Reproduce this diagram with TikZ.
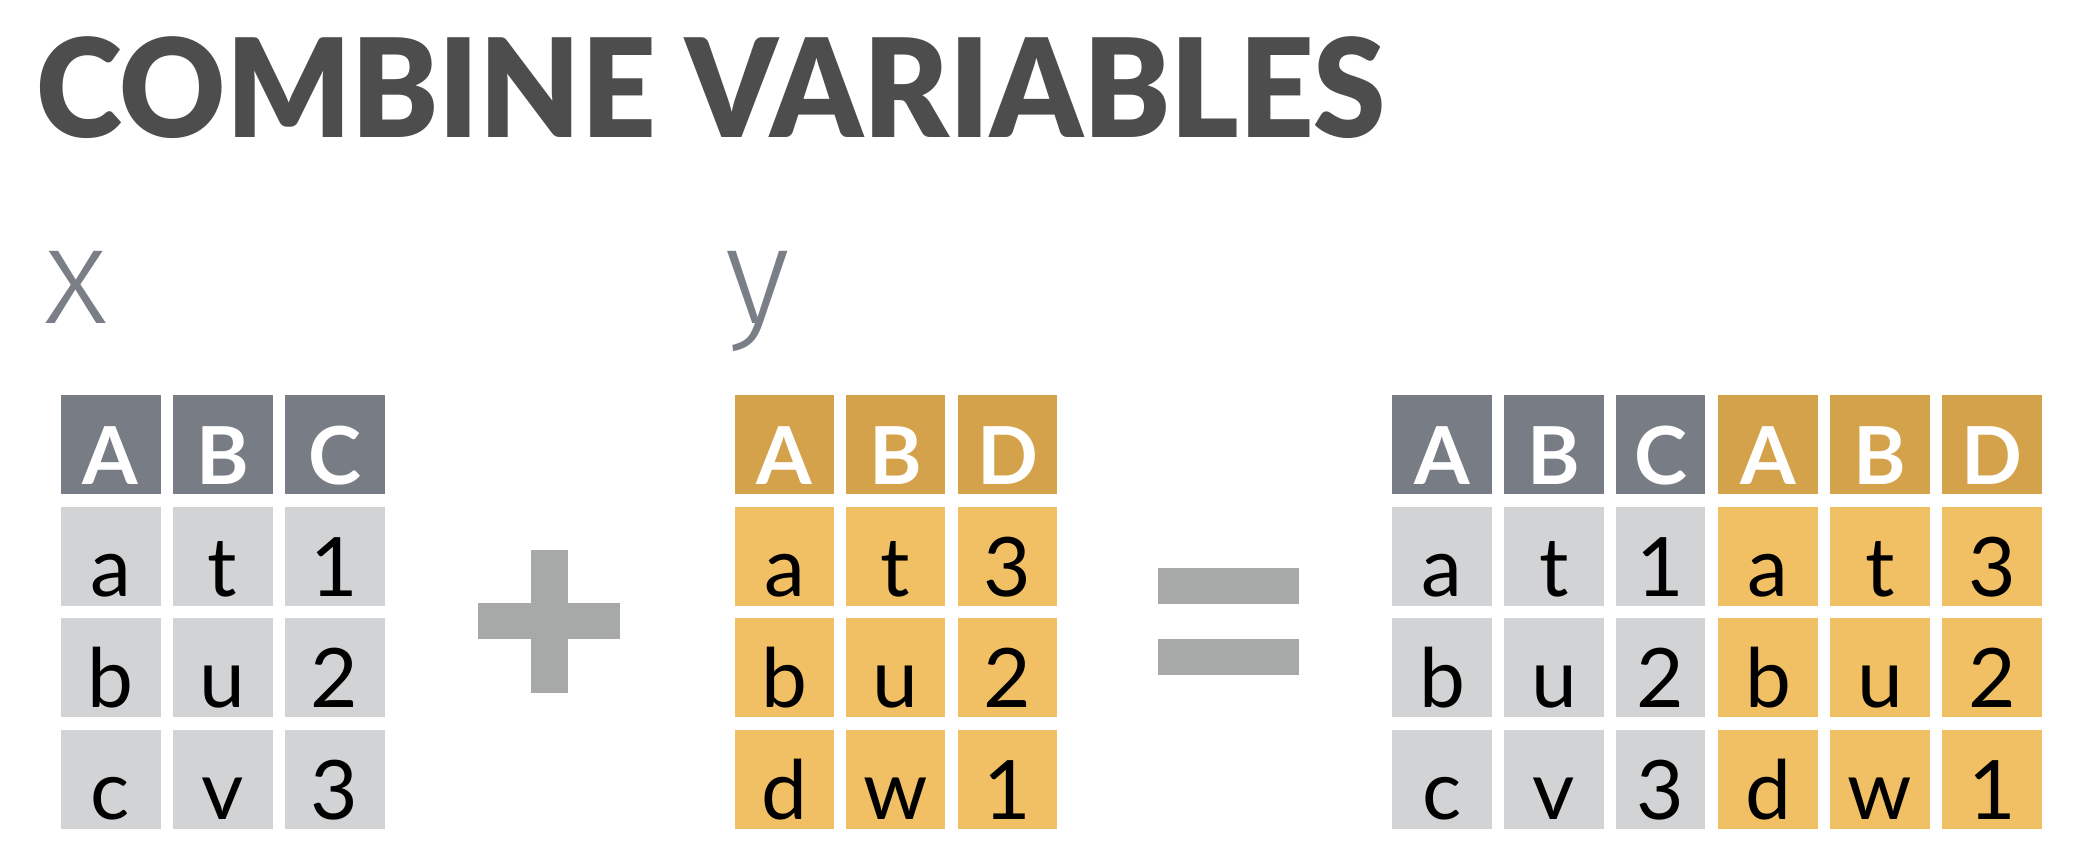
\documentclass[tikz,border=0pt]{standalone}
\usepackage{fontspec}
\setmainfont{Lato}
\newfontfamily\lightfont{Fira Sans Light}
\newfontfamily\blackfont{Lato Black}
\definecolor{titlecol}{HTML}{4D4D4D}
\definecolor{labelcol}{HTML}{7A7E87}
\definecolor{xhead}{HTML}{787C84}
\definecolor{xcell}{HTML}{D1D3D4}
\definecolor{yhead}{HTML}{D5A24C}
\definecolor{ycell}{HTML}{F1C065}
\definecolor{opcol}{HTML}{A7A9A9}
\tikzset{
  cellbox/.style={rectangle, inner sep=0pt, outer sep=0pt, text depth=10pt, text height=89pt, align=center},
  headbox/.style={cellbox, text=white, font=\fontsize{80}{80}\selectfont\bfseries},
  databox/.style={cellbox, text=black, font=\fontsize{82}{82}\selectfont},
  opbar/.style={fill=opcol, draw=none},
}
% #1 name, #2 center x, #3 width, #4 center y, #5 style, #6 fill, #7 text
\newcommand\mycell[7]{\node[#5, fill=#6, minimum width=#3pt] (#1) at (#2,#4) {#7};}
\begin{document}
\begin{tikzpicture}[x=1pt,y=-1pt]
\useasboundingbox[fill=white] (0,0) rectangle (2076,860);
% title
\node[anchor=base west, inner sep=0pt, text=titlecol, font=\fontsize{137}{137}\blackfont] (title) at (36,137) {\scalebox{0.953}[1]{COMBINE VARIABLES}};
% labels
\node[anchor=base west, inner sep=0pt, text=labelcol, font=\fontsize{138}{138}\lightfont] (xlab) at (44,323) {x};
\node[anchor=base west, inner sep=0pt, text=labelcol, font=\fontsize{138}{138}\lightfont] (ylab) at (725,323) {y};
% x table
\mycell{xA}{110.5}{100}{444.5}{headbox}{xhead}{A}
\mycell{xB}{222.5}{100}{444.5}{headbox}{xhead}{B}
\mycell{xC}{334.5}{100}{444.5}{headbox}{xhead}{C}
\mycell{xa1}{110.5}{100}{556.5}{databox}{xcell}{a}
\mycell{xb1}{222.5}{100}{556.5}{databox}{xcell}{t}
\mycell{xc1}{334.5}{100}{556.5}{databox}{xcell}{1}
\mycell{xa2}{110.5}{100}{667.5}{databox}{xcell}{b}
\mycell{xb2}{222.5}{100}{667.5}{databox}{xcell}{u}
\mycell{xc2}{334.5}{100}{667.5}{databox}{xcell}{2}
\mycell{xa3}{110.5}{100}{779.5}{databox}{xcell}{c}
\mycell{xb3}{222.5}{100}{779.5}{databox}{xcell}{v}
\mycell{xc3}{334.5}{100}{779.5}{databox}{xcell}{3}
% plus
\fill[opbar] (531,550) rectangle (568,693);
\fill[opbar] (478,603) rectangle (620,639);
% y table
\mycell{yA}{784.5}{99}{444.5}{headbox}{yhead}{A}
\mycell{yB}{895.5}{99}{444.5}{headbox}{yhead}{B}
\mycell{yD}{1007.5}{99}{444.5}{headbox}{yhead}{D}
\mycell{ya1}{784.5}{99}{556.5}{databox}{ycell}{a}
\mycell{yb1}{895.5}{99}{556.5}{databox}{ycell}{t}
\mycell{yd1}{1007.5}{99}{556.5}{databox}{ycell}{3}
\mycell{ya2}{784.5}{99}{667.5}{databox}{ycell}{b}
\mycell{yb2}{895.5}{99}{667.5}{databox}{ycell}{u}
\mycell{yd2}{1007.5}{99}{667.5}{databox}{ycell}{2}
\mycell{ya3}{784.5}{99}{779.5}{databox}{ycell}{d}
\mycell{yb3}{895.5}{99}{779.5}{databox}{ycell}{w}
\mycell{yd3}{1007.5}{99}{779.5}{databox}{ycell}{1}
% equals
\fill[opbar] (1158,568) rectangle (1299,604);
\fill[opbar] (1158,639) rectangle (1299,675);
% result table
\mycell{rA}{1442}{100}{444.5}{headbox}{xhead}{A}
\mycell{rB}{1554}{100}{444.5}{headbox}{xhead}{B}
\mycell{rC}{1660.5}{89}{444.5}{headbox}{xhead}{C}
\mycell{rA2}{1768}{100}{444.5}{headbox}{yhead}{A}
\mycell{rB2}{1880}{100}{444.5}{headbox}{yhead}{B}
\mycell{rD}{1992}{100}{444.5}{headbox}{yhead}{D}
\mycell{ra1}{1442}{100}{556.5}{databox}{xcell}{a}
\mycell{rb1}{1554}{100}{556.5}{databox}{xcell}{t}
\mycell{rc1}{1660.5}{89}{556.5}{databox}{xcell}{1}
\mycell{ra21}{1768}{100}{556.5}{databox}{ycell}{a}
\mycell{rb21}{1880}{100}{556.5}{databox}{ycell}{t}
\mycell{rd1}{1992}{100}{556.5}{databox}{ycell}{3}
\mycell{ra2}{1442}{100}{667.5}{databox}{xcell}{b}
\mycell{rb2}{1554}{100}{667.5}{databox}{xcell}{u}
\mycell{rc2}{1660.5}{89}{667.5}{databox}{xcell}{2}
\mycell{ra22}{1768}{100}{667.5}{databox}{ycell}{b}
\mycell{rb22}{1880}{100}{667.5}{databox}{ycell}{u}
\mycell{rd2}{1992}{100}{667.5}{databox}{ycell}{2}
\mycell{ra3}{1442}{100}{779.5}{databox}{xcell}{c}
\mycell{rb3}{1554}{100}{779.5}{databox}{xcell}{v}
\mycell{rc3}{1660.5}{89}{779.5}{databox}{xcell}{3}
\mycell{ra23}{1768}{100}{779.5}{databox}{ycell}{d}
\mycell{rb23}{1880}{100}{779.5}{databox}{ycell}{w}
\mycell{rd3}{1992}{100}{779.5}{databox}{ycell}{1}
\end{tikzpicture}
\end{document}
